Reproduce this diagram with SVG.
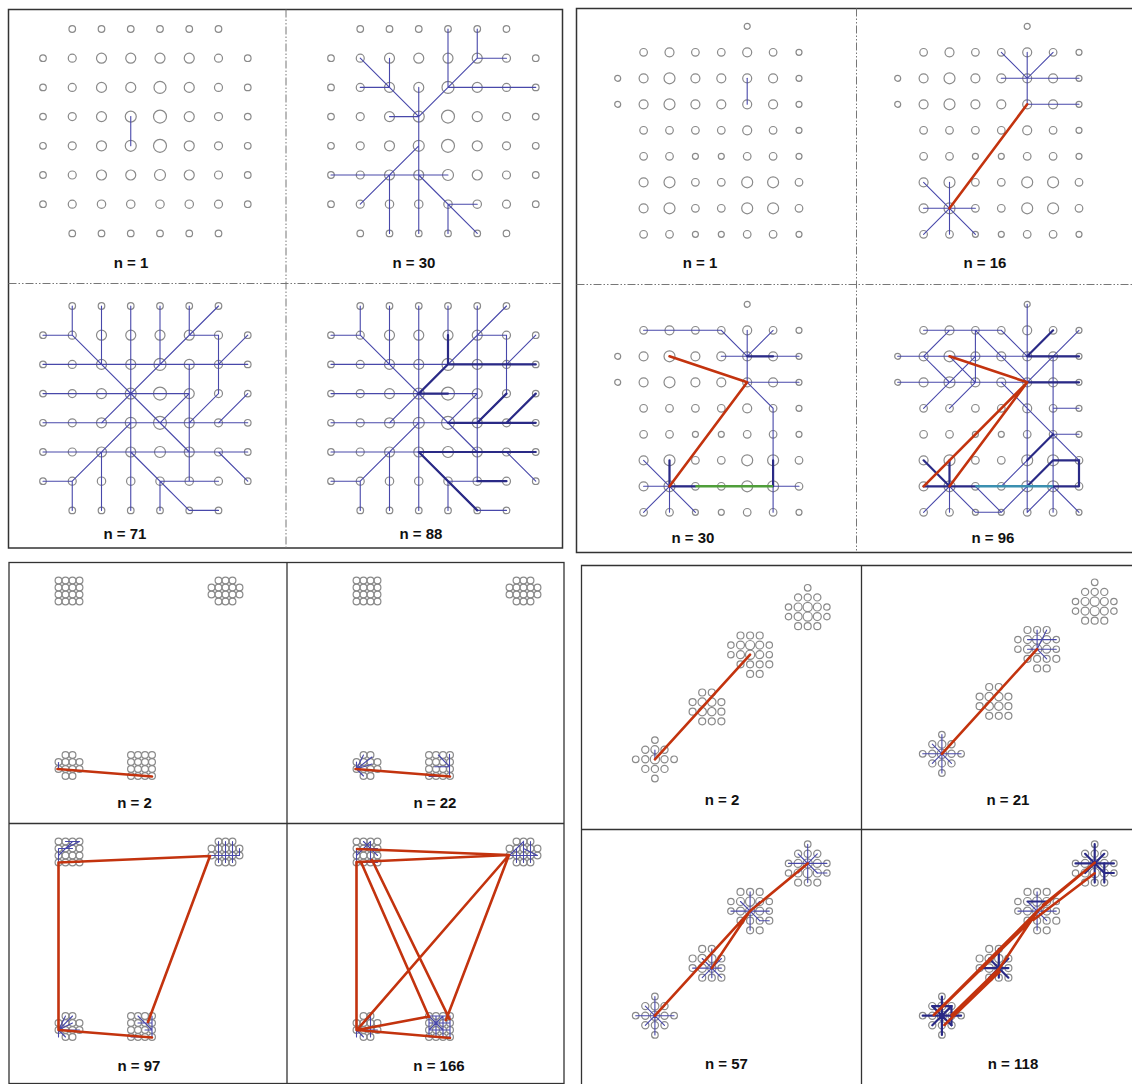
<svg xmlns="http://www.w3.org/2000/svg" width="1132" height="1084" viewBox="0 0 1132 1084">
<style>
.g circle{fill:none;stroke:#8a8a8a;stroke-width:1.2}
.bl{fill:none;stroke:#4848aa;stroke-width:1.1;vector-effect:non-scaling-stroke;stroke-linecap:round}
.bt{fill:none;stroke:#2a2a86;stroke-width:2.2;vector-effect:non-scaling-stroke;stroke-linecap:round}
.rd{fill:none;stroke:#c3330e;stroke-width:2.6;vector-effect:non-scaling-stroke;stroke-linecap:round;stroke-linejoin:round}
.gr{fill:none;stroke:#4f9e3a;stroke-width:2.6;vector-effect:non-scaling-stroke}
.cy{fill:none;stroke:#3b8fb0;stroke-width:2.4;vector-effect:non-scaling-stroke}
.fr{fill:none;stroke:#333;stroke-width:1.5}
.dd{stroke:#777;stroke-width:1;stroke-dasharray:8 2 1.5 2 1.5 2;fill:none}
.sl{stroke:#333;stroke-width:1.3;fill:none}
.lbl{font-family:"Liberation Sans",Arial,sans-serif;font-weight:bold;font-size:15px;fill:#111;text-anchor:middle}
</style>
<defs>
<g id="gA" class="g">
<circle cx="29.25" cy="0" r="3.3"/><circle cx="58.5" cy="0" r="3.3"/><circle cx="87.75" cy="0" r="3.3"/><circle cx="117" cy="0" r="3.3"/><circle cx="146.25" cy="0" r="3.3"/><circle cx="175.5" cy="0" r="3.3"/>
<circle cx="0" cy="29.2" r="3.3"/><circle cx="29.25" cy="29.2" r="4"/><circle cx="58.5" cy="29.2" r="5"/><circle cx="87.75" cy="29.2" r="5"/><circle cx="117" cy="29.2" r="5"/><circle cx="146.25" cy="29.2" r="5"/><circle cx="175.5" cy="29.2" r="4"/><circle cx="204.75" cy="29.2" r="3.3"/>
<circle cx="0" cy="58.4" r="3.3"/><circle cx="29.25" cy="58.4" r="4"/><circle cx="58.5" cy="58.4" r="5"/><circle cx="87.75" cy="58.4" r="5"/><circle cx="117" cy="58.4" r="6"/><circle cx="146.25" cy="58.4" r="5"/><circle cx="175.5" cy="58.4" r="4"/><circle cx="204.75" cy="58.4" r="3.3"/>
<circle cx="0" cy="87.6" r="3.3"/><circle cx="29.25" cy="87.6" r="4"/><circle cx="58.5" cy="87.6" r="5"/><circle cx="87.75" cy="87.6" r="5.5"/><circle cx="117" cy="87.6" r="6.5"/><circle cx="146.25" cy="87.6" r="5"/><circle cx="175.5" cy="87.6" r="4"/><circle cx="204.75" cy="87.6" r="3.3"/>
<circle cx="0" cy="116.8" r="3.3"/><circle cx="29.25" cy="116.8" r="4"/><circle cx="58.5" cy="116.8" r="5"/><circle cx="87.75" cy="116.8" r="5.5"/><circle cx="117" cy="116.8" r="6.5"/><circle cx="146.25" cy="116.8" r="5"/><circle cx="175.5" cy="116.8" r="4"/><circle cx="204.75" cy="116.8" r="3.3"/>
<circle cx="0" cy="146" r="3.3"/><circle cx="29.25" cy="146" r="4"/><circle cx="58.5" cy="146" r="5"/><circle cx="87.75" cy="146" r="5"/><circle cx="117" cy="146" r="5.5"/><circle cx="146.25" cy="146" r="5"/><circle cx="175.5" cy="146" r="4"/><circle cx="204.75" cy="146" r="3.3"/>
<circle cx="0" cy="175.2" r="3.3"/><circle cx="29.25" cy="175.2" r="4"/><circle cx="58.5" cy="175.2" r="4.2"/><circle cx="87.75" cy="175.2" r="4.2"/><circle cx="117" cy="175.2" r="4.2"/><circle cx="146.25" cy="175.2" r="4.2"/><circle cx="175.5" cy="175.2" r="4"/><circle cx="204.75" cy="175.2" r="3.3"/>
<circle cx="29.25" cy="204.4" r="3.3"/><circle cx="58.5" cy="204.4" r="3.3"/><circle cx="87.75" cy="204.4" r="3.3"/><circle cx="117" cy="204.4" r="3.3"/><circle cx="146.25" cy="204.4" r="3.3"/><circle cx="175.5" cy="204.4" r="3.3"/>
</g>
<g id="gB" class="g">
<circle cx="129.5" cy="0" r="3"/>
<circle cx="25.9" cy="26" r="3.8"/><circle cx="51.8" cy="26" r="4.5"/><circle cx="77.7" cy="26" r="3.8"/><circle cx="103.6" cy="26" r="3.8"/><circle cx="129.5" cy="26" r="4.5"/><circle cx="155.4" cy="26" r="3.8"/><circle cx="181.3" cy="26" r="3"/>
<circle cx="0" cy="52" r="3"/><circle cx="25.9" cy="52" r="4.5"/><circle cx="51.8" cy="52" r="5.5"/><circle cx="77.7" cy="52" r="4.5"/><circle cx="103.6" cy="52" r="4.5"/><circle cx="129.5" cy="52" r="4.5"/><circle cx="155.4" cy="52" r="4.5"/><circle cx="181.3" cy="52" r="3"/>
<circle cx="0" cy="78" r="3"/><circle cx="25.9" cy="78" r="4.5"/><circle cx="51.8" cy="78" r="5.5"/><circle cx="77.7" cy="78" r="4.5"/><circle cx="103.6" cy="78" r="4.5"/><circle cx="129.5" cy="78" r="4.5"/><circle cx="155.4" cy="78" r="4.5"/><circle cx="181.3" cy="78" r="3"/>
<circle cx="25.9" cy="104" r="3.8"/><circle cx="51.8" cy="104" r="3.8"/><circle cx="77.7" cy="104" r="3.8"/><circle cx="103.6" cy="104" r="3.8"/><circle cx="129.5" cy="104" r="4.5"/><circle cx="155.4" cy="104" r="3.8"/><circle cx="181.3" cy="104" r="3"/>
<circle cx="25.9" cy="130" r="3.8"/><circle cx="51.8" cy="130" r="3.8"/><circle cx="77.7" cy="130" r="3"/><circle cx="103.6" cy="130" r="3"/><circle cx="129.5" cy="130" r="3.8"/><circle cx="155.4" cy="130" r="3.8"/><circle cx="181.3" cy="130" r="3"/>
<circle cx="25.9" cy="156" r="4.5"/><circle cx="51.8" cy="156" r="5.5"/><circle cx="77.7" cy="156" r="3.8"/><circle cx="103.6" cy="156" r="3.8"/><circle cx="129.5" cy="156" r="5.5"/><circle cx="155.4" cy="156" r="5.5"/><circle cx="181.3" cy="156" r="3.8"/>
<circle cx="25.9" cy="182" r="4.5"/><circle cx="51.8" cy="182" r="5.5"/><circle cx="77.7" cy="182" r="3.8"/><circle cx="103.6" cy="182" r="3.8"/><circle cx="129.5" cy="182" r="5.5"/><circle cx="155.4" cy="182" r="5.5"/><circle cx="181.3" cy="182" r="3.8"/>
<circle cx="25.9" cy="208" r="3.8"/><circle cx="51.8" cy="208" r="3.8"/><circle cx="77.7" cy="208" r="3"/><circle cx="103.6" cy="208" r="3"/><circle cx="129.5" cy="208" r="3.8"/><circle cx="155.4" cy="208" r="3.8"/><circle cx="181.3" cy="208" r="3"/>
</g>
<g id="sq" class="g">
<circle cx="0" cy="0" r="3.4"/><circle cx="7" cy="0" r="3.4"/><circle cx="14" cy="0" r="3.4"/><circle cx="21" cy="0" r="3.4"/>
<circle cx="0" cy="7" r="3.4"/><circle cx="7" cy="7" r="3.4"/><circle cx="14" cy="7" r="3.4"/><circle cx="21" cy="7" r="3.4"/>
<circle cx="0" cy="14" r="3.4"/><circle cx="7" cy="14" r="3.4"/><circle cx="14" cy="14" r="3.4"/><circle cx="21" cy="14" r="3.4"/>
<circle cx="0" cy="21" r="3.4"/><circle cx="7" cy="21" r="3.4"/><circle cx="14" cy="21" r="3.4"/><circle cx="21" cy="21" r="3.4"/>
</g>
<g id="hx" class="g">
<circle cx="7" cy="0" r="3.4"/><circle cx="14" cy="0" r="3.4"/><circle cx="21" cy="0" r="3.4"/>
<circle cx="0" cy="7" r="3.4"/><circle cx="7" cy="7" r="3.4"/><circle cx="14" cy="7" r="3.4"/><circle cx="21" cy="7" r="3.4"/><circle cx="28" cy="7" r="3.4"/>
<circle cx="0" cy="14" r="3.4"/><circle cx="7" cy="14" r="3.4"/><circle cx="14" cy="14" r="3.4"/><circle cx="21" cy="14" r="3.4"/><circle cx="28" cy="14" r="3.4"/>
<circle cx="7" cy="21" r="3.4"/><circle cx="14" cy="21" r="3.4"/><circle cx="21" cy="21" r="3.4"/>
</g>
<g id="b4" class="g">
<circle cx="7" cy="0" r="3.4"/><circle cx="14" cy="0" r="3.4"/>
<circle cx="0" cy="7" r="3.4"/><circle cx="7" cy="7" r="3.4"/><circle cx="14" cy="7" r="3.4"/><circle cx="21" cy="7" r="3.4"/>
<circle cx="0" cy="14" r="3.4"/><circle cx="7" cy="14" r="3.4"/><circle cx="14" cy="14" r="3.4"/><circle cx="21" cy="14" r="3.4"/>
<circle cx="7" cy="21" r="3.4"/><circle cx="14" cy="21" r="3.4"/>
</g>
<g id="k1" class="g">
<circle cx="0" cy="-19.2" r="3.3"/>
<circle cx="-9.6" cy="-9.6" r="3.6"/><circle cx="0" cy="-9.6" r="4"/><circle cx="9.6" cy="-9.6" r="3.6"/>
<circle cx="-19.2" cy="0" r="3.3"/><circle cx="-9.6" cy="0" r="3.6"/><circle cx="0" cy="0" r="4.6"/><circle cx="9.6" cy="0" r="3.6"/><circle cx="19.2" cy="0" r="3.3"/>
<circle cx="-9.6" cy="9.6" r="3.6"/><circle cx="0" cy="9.6" r="3.6"/><circle cx="9.6" cy="9.6" r="3.6"/>
<circle cx="0" cy="19.2" r="3.3"/>
</g>
<g id="k2" class="g">
<circle cx="-9.6" cy="-19.2" r="3.5"/><circle cx="0" cy="-19.2" r="3.5"/>
<circle cx="-19.2" cy="-9.6" r="3.5"/><circle cx="-9.6" cy="-9.6" r="4.2"/><circle cx="0" cy="-9.6" r="4.2"/><circle cx="9.6" cy="-9.6" r="3.5"/>
<circle cx="-19.2" cy="0" r="3.5"/><circle cx="-9.6" cy="0" r="4.2"/><circle cx="0" cy="0" r="4.2"/><circle cx="9.6" cy="0" r="3.5"/>
<circle cx="-9.6" cy="9.6" r="3.5"/><circle cx="0" cy="9.6" r="3.5"/><circle cx="9.6" cy="9.6" r="3.5"/>
</g>
<g id="k3" class="g">
<circle cx="-9.6" cy="-19.2" r="3.5"/><circle cx="0" cy="-19.2" r="3.5"/><circle cx="9.6" cy="-19.2" r="3.5"/>
<circle cx="-19.2" cy="-9.6" r="3.2"/><circle cx="-9.6" cy="-9.6" r="4"/><circle cx="0" cy="-9.6" r="4.6"/><circle cx="9.6" cy="-9.6" r="4"/><circle cx="19.2" cy="-9.6" r="3.2"/>
<circle cx="-19.2" cy="0" r="3.2"/><circle cx="-9.6" cy="0" r="4"/><circle cx="0" cy="0" r="4.6"/><circle cx="9.6" cy="0" r="4"/><circle cx="19.2" cy="0" r="3.2"/>
<circle cx="-9.6" cy="9.6" r="3.5"/><circle cx="0" cy="9.6" r="3.5"/><circle cx="9.6" cy="9.6" r="3.5"/><circle cx="19.2" cy="9.6" r="3.5"/>
<circle cx="0" cy="19.2" r="3.5"/><circle cx="9.6" cy="19.2" r="3.5"/>
</g>
<g id="k4" class="g">
<circle cx="0" cy="-19.2" r="3.3"/>
<circle cx="-9.6" cy="-9.6" r="3.6"/><circle cx="0" cy="-9.6" r="3.6"/><circle cx="9.6" cy="-9.6" r="3.6"/>
<circle cx="-19.2" cy="0" r="3.2"/><circle cx="-9.6" cy="0" r="4"/><circle cx="0" cy="0" r="4.6"/><circle cx="9.6" cy="0" r="4"/><circle cx="19.2" cy="0" r="3.2"/>
<circle cx="-19.2" cy="9.6" r="3.2"/><circle cx="-9.6" cy="9.6" r="4"/><circle cx="0" cy="9.6" r="4.6"/><circle cx="9.6" cy="9.6" r="4"/><circle cx="19.2" cy="9.6" r="3.2"/>
<circle cx="-9.6" cy="19.2" r="3.5"/><circle cx="0" cy="19.2" r="3.5"/><circle cx="9.6" cy="19.2" r="3.5"/>
</g>
<path id="star" d="M0,-19.2V19.2M-19.2,0H19.2M-9.6,-9.6L9.6,9.6M-9.6,9.6L9.6,-9.6"/>
<path id="star2" d="M0,-19.2V9.6M-19.2,0H9.6M-9.6,-9.6L9.6,9.6M-9.6,9.6L9.6,-9.6"/>
</defs>

<g id="frame-A">
<rect class="fr" x="8.5" y="9.5" width="554" height="538.5"/>
<line class="dd" x1="286" y1="9.5" x2="286" y2="548"/>
<line class="dd" x1="8.5" y1="283.5" x2="562.5" y2="283.5"/>
</g>
<g id="A1">
<use href="#gA" x="43" y="29"/>
<g transform="translate(43,29) scale(29.25,29.2)"><path class="bl" d="M3,3V4"/></g>
<text class="lbl" x="131" y="268">n = 1</text>
</g>
<g id="A2">
<use href="#gA" x="331" y="29"/>
<g transform="translate(331,29) scale(29.25,29.2)"><path class="bl" d="M4,0V2M5,0V1H6M5,1L4,2H7M4,2L3,3M1,1L3,3M2,1V2M1,2H2M2,3H3M3,2V7M3,4L1,6M0,5H4M2,5V7M3,5L5,7M4,6H5M4,6V7"/></g>
<text class="lbl" x="414" y="268">n = 30</text>
</g>
<g id="A3">
<use href="#gA" x="43" y="306"/>
<g transform="translate(43,306) scale(29.25,29.2)"><path class="bl" d="M1,0V1H0M1,1L5,5M2,0V2M3,0V7M4,0V2M5,0V1H6V3L5,4M6,0L2,4M7,1L6,2M0,2H7M0,3H5M5,2V6M5,3L4,4M0,4H7M7,3L6,4M0,5H7M3,4L1,6M0,6H1V7M2,5V7M3,5L5,7H6M4,6H6M4,6V7M6,5L7,6"/></g>
<text class="lbl" x="125" y="539">n = 71</text>
</g>
<g id="A4">
<use href="#gA" x="331" y="306"/>
<g transform="translate(331,306) scale(29.25,29.2)"><path class="bl" d="M1,0V1H0M1,1L5,5M2,0V2M3,0V7M4,0V2M5,0V6M5,1H6V3L5,4M6,0L2,4M7,1L6,2M0,2H7M0,3H5M5,3L4,4M0,4H7M7,3L6,4M0,5H7M3,4L1,6M0,6H1V7M2,5V7M3,5L5,7H6M4,6H6M4,6V7M6,5L7,6"/>
<path class="bt" d="M4,1V2L3,3H4M4,2H7M6,3L5,4M7,3L6,4M4,4H7M3,5H7M3,5L5,7M5,6H6"/></g>
<text class="lbl" x="421" y="539">n = 88</text>
</g>

<g id="frame-B">
<path class="fr" d="M1132,8.5H576.5V552.5H1132"/>
<line class="dd" x1="856.5" y1="8.5" x2="856.5" y2="552.5"/>
<line class="dd" x1="576.5" y1="284.5" x2="1132" y2="284.5"/>
</g>
<g id="B1">
<use href="#gB" x="617.7" y="26.3"/>
<g transform="translate(617.7,26.3) scale(25.9,26)"><path class="bl" d="M5,2V3"/></g>
<text class="lbl" x="700" y="268">n = 1</text>
</g>
<g id="B2">
<use href="#gB" x="897.7" y="26.3"/>
<g transform="translate(897.7,26.3) scale(25.9,26)">
<path class="bl" d="M5,1V3M4,1L5,2L6,1M4,2H7M5,3H7M1,6L3,8M1,8L2,7M2,6V8M1,7H3"/>
<path class="rd" d="M5,3L2,7"/></g>
<text class="lbl" x="985" y="268">n = 16</text>
</g>
<g id="B3">
<use href="#gB" x="617.7" y="304.3"/>
<g transform="translate(617.7,304.3) scale(25.9,26)">
<path class="bl" d="M1,1H4L5,2M5,1V3M6,1L5,2M4,2H7M5,3H7M5,3L6,4V8M1,6L3,8M1,8L2,7M2,6V8M1,7H3M6,7H7"/>
<path class="bt" d="M5,2H6M2,6V7H3M6,6V7"/>
<path class="gr" d="M3,7H6"/>
<path class="rd" d="M2,2L5,3L2,7"/></g>
<text class="lbl" x="693" y="543">n = 30</text>
</g>
<g id="B4">
<use href="#gB" x="897.7" y="304.3"/>
<g transform="translate(897.7,304.3) scale(25.9,26)">
<path class="bl" d="M1,1H4L5,2M5,0V8M0,2H7M0,3H7M2,1L1,2L2,3L1,4M3,2L2,3M3,3L2,4M3,1V3M2,2L3,3M3,1L5,3M7,1L5,3M4,3L7,6M6,2V8M6,4H7M6,5H7M4,7L5,6M1,8L2,7V8M2,7L3,8H4M3,7L4,8L5,7M5,8L6,7L7,8"/>
<path class="bt" d="M6,1L5,2M5,2H7M5,3H7M6,6H7V7M5,6L6,5M5,7L6,6M1,7H3M6,7H7M1,6L2,7M2,6V7"/>
<path class="cy" d="M3,7H6"/>
<path class="rd" d="M2,2L5,3M5,3L1,7M5,3L2,7"/></g>
<text class="lbl" x="993" y="543">n = 96</text>
</g>

<g id="frame-C">
<rect class="sl" x="9" y="562.5" width="555" height="521"/>
<line class="sl" x1="287" y1="562.5" x2="287" y2="1084"/>
<line class="sl" x1="9" y1="823.5" x2="564" y2="823.5"/>
</g>
<g id="C1">
<use href="#sq" x="58.5" y="580.5"/><use href="#hx" x="211.5" y="580.5"/><use href="#b4" x="58.5" y="755"/><use href="#sq" x="131" y="755"/>
<path class="bl" d="M58.5,762.5V769"/>
<path class="rd" d="M57.5,769L152,776.5"/>
<text class="lbl" x="134.5" y="808">n = 2</text>
</g>
<g id="C2">
<use href="#sq" x="356.5" y="580.5"/><use href="#hx" x="509.5" y="580.5"/><use href="#b4" x="356.5" y="755"/><use href="#sq" x="429" y="755"/>
<path class="bl" d="M356.5,769L363.5,755M356.5,769L372,757M356.5,769L372,764M356.5,769L363.5,776M356.5,769V762M438.4,755L449.5,766.7M449.5,754.3V776.7M434.7,766.7H449.5M429,776.5H449.5"/>
<path class="rd" d="M355.5,769L450,776.5"/>
<text class="lbl" x="435" y="808">n = 22</text>
</g>
<g id="C3">
<use href="#sq" x="58.5" y="841.5"/><use href="#hx" x="211.5" y="841.5"/><use href="#b4" x="58.5" y="1016"/><use href="#sq" x="131" y="1016"/>
<path class="bl" d="M58.5,848.5V862.5H79.5M58.5,855.5L72.5,841.5M65.5,848.5L79.5,841.5M58.5,848.5H72.5M65.5,841.5H79.5M211.5,855.5H239.5V848.5M218.5,841.5V862.5M225.5,841.5V862.5M232.5,841.5V862.5M58.5,1030L65.5,1016M58.5,1030L72.5,1016M58.5,1030L72.5,1023M58.5,1030H79.5M58.5,1030L65.5,1037M58.5,1023V1037M138,1016L152,1030M152,1016V1037M131,1037H152M138,1023H152M145,1030H152"/>
<path class="rd" d="M58.5,862.5L210,856L148,1022M58.5,862.5V1030L152,1037.5"/>
<text class="lbl" x="139" y="1071">n = 97</text>
</g>
<g id="C4">
<use href="#sq" x="356.5" y="841.5"/><use href="#hx" x="509.5" y="841.5"/><use href="#b4" x="356.5" y="1016"/><use href="#sq" x="429" y="1016"/>
<path class="bl" d="M356.5,848.5V862.5H377.5M356.5,855.5L370.5,841.5M363.5,841.5L377.5,855.5M356.5,848.5H377.5M370.5,841.5V862.5M509.5,855.5H537.5M509.5,855.5L523.5,841.5V862.5M516.5,848.5V862.5M523.5,848.5L537.5,855.5M530.5,841.5V862.5M356.5,1030L370.5,1016V1037M356.5,1030H377.5M356.5,1023V1037M356.5,1030L363.5,1037M429,1016H450V1037H429ZM429,1023H450M429,1030H450M443,1016V1037M429,1016L443,1030M443,1016L429,1030M436,1016V1037"/>
<path class="rd" d="M357,849L509,855M357,862L509,855M356.5,862V1030M361,862L429,1017M372,860L449.5,1019M509,855L357,1030M509,855L446,1020M357,1030L429,1016.5M357,1030L450,1038"/>
<text class="lbl" x="439" y="1071">n = 166</text>
</g>

<g id="frame-D">
<path class="sl" d="M1132,565.5H581.5V1084"/>
<line class="sl" x1="861.5" y1="565.5" x2="861.5" y2="1084"/>
<line class="sl" x1="581.5" y1="829.5" x2="1132" y2="829.5"/>
</g>
<g id="D1">
<use href="#k1" x="654.9" y="759.3"/><use href="#k2" x="711.8" y="711.7"/><use href="#k3" x="750.1" y="654.7"/><use href="#k4" x="807.7" y="607"/>
<path class="bl" d="M654.9,759.3V750"/>
<path class="rd" d="M654.9,759.3L750.1,654.7"/>
<text class="lbl" x="722" y="805">n = 2</text>
</g>
<g id="D2">
<use href="#k1" x="941.9" y="753.8"/><use href="#k2" x="998.8" y="706.2"/><use href="#k3" x="1037.1" y="649.2"/><use href="#k4" x="1094.7" y="601.5"/>
<use href="#star" class="bl" x="941.9" y="753.8"/>
<path class="bl" d="M1027.5,639.6H1056.3M1027.5,649.2H1056.3M1037.1,630V649.2M1037.1,649.2L1046.7,630M1037.1,649.2L1027.5,658.8M1037.1,649.2L1046.7,658.8"/>
<path class="rd" d="M941.9,753.8L1037.1,649.2"/>
<text class="lbl" x="1008" y="805">n = 21</text>
</g>
<g id="D3">
<use href="#k1" x="654.9" y="1015.7"/><use href="#k2" x="711.8" y="968.1"/><use href="#k3" x="750.1" y="911.1"/><use href="#k4" x="807.7" y="863.4"/>
<use href="#star" class="bl" x="654.9" y="1015.7"/><use href="#star2" class="bl" x="711.8" y="968.1"/><use href="#star" class="bl" x="750.1" y="911.1"/><use href="#star" class="bl" x="807.7" y="863.4"/>
<path class="bl" d="M759.7,920.7H769.3M817.3,873H826.9"/>
<path class="rd" d="M654.9,1015.7L750.1,911.1L807.7,863.4M711.8,968.1L748,914"/>
<text class="lbl" x="726.5" y="1069">n = 57</text>
</g>
<g id="D4">
<use href="#k1" x="941.9" y="1015.7"/><use href="#k2" x="998.8" y="968.1"/><use href="#k3" x="1037.1" y="911.1"/><use href="#k4" x="1094.7" y="863.4"/>
<use href="#star" class="bt" x="941.9" y="1015.7"/><use href="#star2" class="bt" x="998.8" y="968.1"/><use href="#star" class="bl" x="1037.1" y="911.1"/><use href="#star" class="bt" x="1094.7" y="863.4"/>
<path class="bt" d="M932.3,1006.1H951.5V1025.3M1027.5,901.5H1046.7M1104.3,873H1113.9M1104.3,863.4V882.6"/>
<path class="rd" d="M933.8,1015L1037.5,911M944.4,1025L999.5,971.7M937.3,1011.7L1033.3,918.3M951.6,1015L999.5,968.3M999.5,968.3L1037.5,911M1037.5,911L1094.7,862.7M1033.3,920L1094.7,873.3M1043,905L1086,870"/>
<text class="lbl" x="1013" y="1069">n = 118</text>
</g>
</svg>
